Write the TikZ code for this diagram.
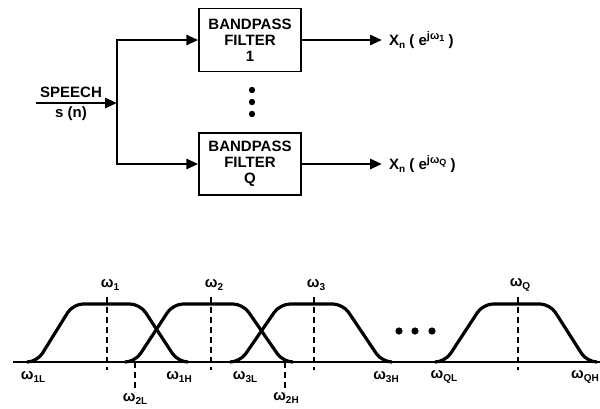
\documentclass[tikz,border=0pt]{standalone}
\usepackage{fontspec}
\setmainfont{Liberation Sans}
\usetikzlibrary{arrows.meta}
\newcommand\boxfont{\bfseries\fontsize{15}{16}\selectfont}
\newcommand\labfont{\bfseries\fontsize{15}{16}\selectfont}
\newcommand\mysub[1]{\raisebox{-0.4ex}{\fontsize{10}{10}\selectfont #1}}
\newcommand\om[1]{ω\mysub{#1}}
\newcommand\outlab[1]{X\mysub{n} ( e\raisebox{0.7ex}{\fontsize{11}{11}\selectfont jω\raisebox{-0.3ex}{\fontsize{9}{9}\selectfont #1}} )}
\newcommand\filt[4]{\draw[bandcurve] (#1-10,362) -- (#1,362) -- (#2,304) -- (#3,304) -- (#4,362) -- (#4+10,362);}
\begin{document}
\begin{tikzpicture}[x=1pt,y=-1pt,
  box/.style={draw, line width=1.4pt, minimum width=102pt, minimum height=63pt, inner sep=0pt, align=center, font=\boxfont},
  wire/.style={line width=2.8pt},
  arr/.style={wire, -{Triangle[length=12pt,width=10pt]}},
  bandcurve/.style={line width=3.2pt, rounded corners=10pt, line join=round},
  dline/.style={line width=1.7pt, dash pattern=on 6pt off 4pt},
  lab/.style={font=\labfont, inner sep=0pt},
  dotfill/.style={fill=black}]
\useasboundingbox (0,0) rectangle (600,408);
\clip (0,0) rectangle (600,408);
% block diagram
\node[box] (b1) at (250,40) {BANDPASS\\FILTER\\1};
\node[box, minimum height=62pt] (bq) at (250,164) {BANDPASS\\FILTER\\Q};
\coordinate (in) at (36,103);
\coordinate (j) at (117,103);
\coordinate (o1) at (382,40);
\coordinate (oq) at (382,164);
\draw[arr] (in) -- (j);
\draw[arr] (j) |- (b1.west);
\draw[arr] (j) |- (bq.west);
\draw[arr] (b1.east) -- (o1);
\draw[arr] (bq.east) -- (oq);
\node[lab, anchor=west] (x1) at (389,40) {\outlab{1}};
\node[lab, anchor=west] (xq) at (389,164) {\outlab{Q}};
\node[lab] (sp) at (71,92) {SPEECH};
\node[lab] (sn) at (71,114) {s (n)};
\fill[dotfill] (252,90) circle (3.2pt);
\fill[dotfill] (252,102) circle (3.2pt);
\fill[dotfill] (252,114) circle (3.2pt);
% frequency responses
\draw[line width=2pt] (13,362) -- (600,362);
\filt{37}{73}{140}{178}
\filt{135}{173}{243}{283}
\filt{240}{280}{343}{382}
\filt{445}{483}{550}{587}
\draw[dline] (107,297) -- (107,370);
\draw[dline] (211,297) -- (211,370);
\draw[dline] (314,297) -- (314,370);
\draw[dline] (518,297) -- (518,370);
\draw[dline] (135,362) -- (135,392);
\draw[dline] (285,362) -- (285,392);
\fill[dotfill] (399,331) circle (3.6pt);
\fill[dotfill] (415,331) circle (3.6pt);
\fill[dotfill] (432,331) circle (3.6pt);
\node[lab] (w1) at (110,285) {\om{1}};
\node[lab] (w2) at (214,285) {\om{2}};
\node[lab] (w3) at (316,285) {\om{3}};
\node[lab] (wq) at (520,285) {\om{Q}};
\node[lab] (w1l) at (33,377) {\om{1L}};
\node[lab] (w1h) at (179,377) {\om{1H}};
\node[lab] (w2l) at (135,399) {\om{2L}};
\node[lab] (w3l) at (245,377) {\om{3L}};
\node[lab] (w2h) at (286,398) {\om{2H}};
\node[lab] (w3h) at (386,377) {\om{3H}};
\node[lab] (wql) at (444,377) {\om{QL}};
\node[lab, anchor=east] (wqh) at (599,377) {\om{QH}};
\end{tikzpicture}
\end{document}
